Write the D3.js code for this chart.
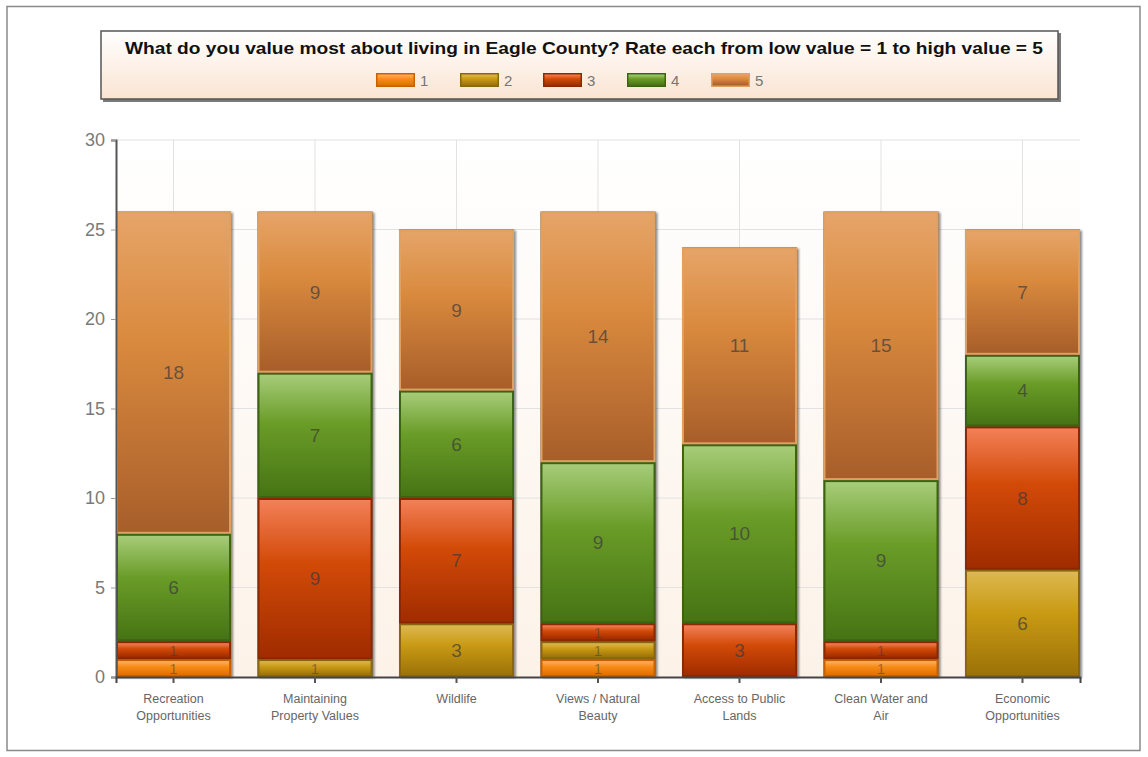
<!DOCTYPE html>
<html>
<head>
<meta charset="utf-8">
<script src="https://cdn.jsdelivr.net/npm/d3@7"></script>
<style>
  html, body { margin: 0; padding: 0; background: #ffffff; }
  svg { display: block; }
</style>
</head>
<body>
<svg id="chart" width="1148" height="757"></svg>
<script>
const title = "What do you value most about living in Eagle County? Rate each from low value = 1 to high value = 5";
const categories = [
  ["Recreation", "Opportunities"],
  ["Maintaining", "Property Values"],
  ["Wildlife"],
  ["Views / Natural", "Beauty"],
  ["Access to Public", "Lands"],
  ["Clean Water and", "Air"],
  ["Economic", "Opportunities"]
];
const seriesNames = ["1", "2", "3", "4", "5"];
const rating1 = [1, 0, 0, 1, 0, 1, 0];
const rating2 = [0, 1, 3, 1, 0, 0, 6];
const rating3 = [1, 9, 7, 1, 3, 1, 8];
const rating4 = [6, 7, 6, 9, 10, 9, 4];
const rating5 = [18, 9, 9, 14, 11, 15, 7];
const yTicks = [0, 5, 10, 15, 20, 25, 30];

const seriesValues = [rating1, rating2, rating3, rating4, rating5];
const colors = [
  {top: "#ffb060", mid: "#f88c18", bot: "#e07000", border: "#c86000"},
  {top: "#ddb850", mid: "#c99a14", bot: "#9c7208", border: "#8a6610"},
  {top: "#f38058", mid: "#d24a08", bot: "#a02c00", border: "#8c2800"},
  {top: "#a6cc78", mid: "#6a9c28", bot: "#467414", border: "#3c6410"},
  {top: "#e6a468", mid: "#d98a3e", bot: "#a85e2a", border: "#e0a060"}
];

const svg = d3.select("#chart");
const defs = svg.append("defs");

colors.forEach((c, i) => {
  const g = defs.append("linearGradient").attr("id", "grad" + i)
    .attr("x1", 0).attr("y1", 0).attr("x2", 0).attr("y2", 1);
  g.append("stop").attr("offset", "0%").attr("stop-color", c.top);
  g.append("stop").attr("offset", "40%").attr("stop-color", c.mid);
  g.append("stop").attr("offset", "100%").attr("stop-color", c.bot);
});
const lg = defs.append("linearGradient").attr("id", "legendBg")
  .attr("x1", 0).attr("y1", 0).attr("x2", 0).attr("y2", 1);
lg.append("stop").attr("offset", "0%").attr("stop-color", "#ffffff");
lg.append("stop").attr("offset", "100%").attr("stop-color", "#fae4d2");
const pg = defs.append("linearGradient").attr("id", "plotBg")
  .attr("x1", 0).attr("y1", 0).attr("x2", 0).attr("y2", 1);
pg.append("stop").attr("offset", "0%").attr("stop-color", "#ffffff");
pg.append("stop").attr("offset", "100%").attr("stop-color", "#fcf2e8");
const sh = defs.append("filter").attr("id", "shadow").attr("x", "-10%").attr("y", "-10%").attr("width", "130%").attr("height", "130%");
sh.append("feDropShadow").attr("dx", 2).attr("dy", 1).attr("stdDeviation", 1.2).attr("flood-color", "#000").attr("flood-opacity", 0.45);

// outer frame
svg.append("rect").attr("x", 7).attr("y", 6.5).attr("width", 1133).attr("height", 744)
  .attr("fill", "#ffffff").attr("stroke", "#8a8a8a").attr("stroke-width", 1.5);

const margin = {left: 116, right: 1080, top: 140, bottom: 677};
const x = d3.scaleBand().domain(d3.range(categories.length))
  .range([margin.left, margin.right]).paddingInner(0.187).paddingOuter(0);
const y = d3.scaleLinear().domain([0, 30]).range([margin.bottom, margin.top]);

// plot background
svg.append("rect").attr("x", margin.left).attr("y", margin.top)
  .attr("width", margin.right - margin.left).attr("height", margin.bottom - margin.top)
  .attr("fill", "url(#plotBg)");

// grid
const grid = svg.append("g");
grid.selectAll("line.h").data(yTicks.filter(d => d > 0)).join("line")
  .attr("x1", margin.left).attr("x2", margin.right)
  .attr("y1", d => y(d)).attr("y2", d => y(d))
  .attr("stroke", "#e2e2e2").attr("stroke-width", 1);
grid.selectAll("line.v").data(d3.range(categories.length)).join("line")
  .attr("x1", d => x(d) + x.bandwidth() / 2).attr("x2", d => x(d) + x.bandwidth() / 2)
  .attr("y1", margin.top).attr("y2", margin.bottom)
  .attr("stroke", "#e2e2e2").attr("stroke-width", 1);

// stack
const rows = categories.map((c, i) => {
  const r = {i};
  seriesNames.forEach((s, k) => r[s] = seriesValues[k][i]);
  return r;
});
const stack = d3.stack().keys(seriesNames)(rows);

// bar shadows (whole bar)
const totals = rows.map(r => d3.sum(seriesNames, s => r[s]));
svg.append("g").selectAll("rect").data(totals).join("rect")
  .attr("x", (d, i) => x(i)).attr("y", d => y(d))
  .attr("width", x.bandwidth()).attr("height", d => y(0) - y(d))
  .attr("fill", "#555").attr("filter", "url(#shadow)");

const barG = svg.append("g");
stack.forEach((layer, k) => {
  const g = barG.append("g");
  layer.forEach((seg, i) => {
    const v = seg[1] - seg[0];
    if (v <= 0) return;
    const x0 = x(i), w = x.bandwidth();
    const y0 = y(seg[1]), h = y(seg[0]) - y(seg[1]);
    g.append("rect").attr("x", x0).attr("y", y0).attr("width", w).attr("height", h)
      .attr("fill", colors[k].border);
    g.append("rect").attr("x", x0 + 2).attr("y", y0 + 2).attr("width", w - 4).attr("height", Math.max(0, h - 4))
      .attr("fill", "url(#grad" + k + ")");
    g.append("text")
      .attr("x", x0 + w / 2).attr("y", (y0 + y0 + h) / 2)
      .attr("text-anchor", "middle").attr("dominant-baseline", "central")
      .attr("font-family", "Liberation Sans, Arial, sans-serif")
      .attr("font-size", v >= 2 ? 19 : 15)
      .attr("fill", "#3a3a3a").attr("fill-opacity", v >= 2 ? 0.7 : 0.5)
      .text(v);
  });
});

// axes
const yAxis = svg.append("g").attr("transform", `translate(${margin.left},0)`)
  .call(d3.axisLeft(y).tickValues(yTicks).tickSize(5).tickPadding(6));
yAxis.select(".domain").attr("stroke", "#555").attr("stroke-width", 2);
yAxis.selectAll(".tick line").attr("stroke", "#999");
yAxis.selectAll(".tick text").attr("font-family", "Liberation Sans, Arial, sans-serif")
  .attr("font-size", 18).attr("fill", "#7a7a7a");

const xAxis = svg.append("g").attr("transform", `translate(0,${margin.bottom})`)
  .call(d3.axisBottom(x).tickSize(6).tickFormat(""));
xAxis.select(".domain").attr("stroke", "#444").attr("stroke-width", 2);
xAxis.selectAll(".tick line").attr("stroke", "#555").attr("stroke-width", 2);

const xl = svg.append("g");
categories.forEach((lines, i) => {
  const t = xl.append("text").attr("x", x(i) + x.bandwidth() / 2).attr("y", 703)
    .attr("text-anchor", "middle")
    .attr("font-family", "Liberation Sans, Arial, sans-serif")
    .attr("font-size", 12.5).attr("fill", "#666");
  lines.forEach((l, j) => t.append("tspan").attr("x", x(i) + x.bandwidth() / 2).attr("dy", j === 0 ? 0 : 17).text(l));
});

// legend box
svg.append("rect").attr("x", 103).attr("y", 33).attr("width", 958).attr("height", 69)
  .attr("fill", "#7a7a7a");
svg.append("rect").attr("x", 101).attr("y", 31).attr("width", 957).attr("height", 68)
  .attr("fill", "url(#legendBg)").attr("stroke", "#555").attr("stroke-width", 1.5);
svg.append("text").attr("x", 584).attr("y", 54).attr("text-anchor", "middle")
  .attr("font-family", "Liberation Sans Narrow, Liberation Sans, Arial, sans-serif").attr("font-weight", "bold")
  .attr("font-size", 16.5).attr("fill", "#111")
  .attr("textLength", 918).attr("lengthAdjust", "spacingAndGlyphs")
  .text(title);

const legX = [376, 460, 543, 627, 711];
const leg = svg.append("g");
seriesNames.forEach((s, k) => {
  leg.append("rect").attr("x", legX[k]).attr("y", 73).attr("width", 39).attr("height", 14)
    .attr("fill", colors[k].border);
  leg.append("rect").attr("x", legX[k] + 1.5).attr("y", 74.5).attr("width", 36).attr("height", 11)
    .attr("fill", "url(#grad" + k + ")");
  leg.append("text").attr("x", legX[k] + 44).attr("y", 86)
    .attr("font-family", "Liberation Sans, Arial, sans-serif").attr("font-size", 15)
    .attr("fill", "#777").text(s);
});
</script>
</body>
</html>
